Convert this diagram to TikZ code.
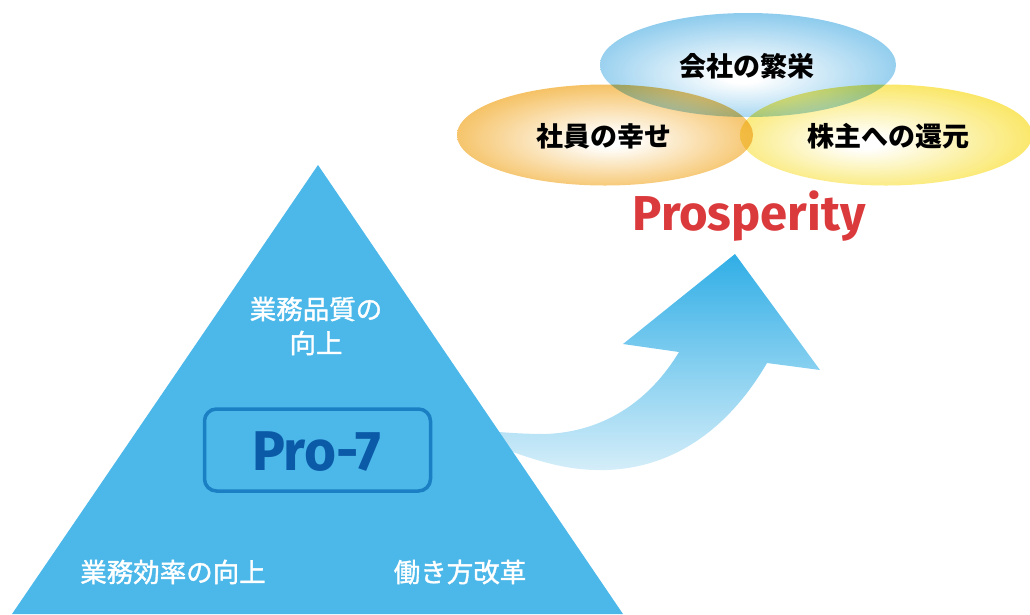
\documentclass[tikz,border=0pt]{standalone}
\usepackage{fontspec}
\setmainfont{Fira Sans}
\newfontfamily\jp{Noto Sans CJK JP}
\newfontfamily\jpm[FakeBold=1.3]{Noto Sans CJK JP}
\definecolor{triC}{HTML}{4CB8E9}
\definecolor{boxC}{HTML}{1B7FC4}
\definecolor{proC}{HTML}{0B5AA8}
\definecolor{redC}{HTML}{DB3A3C}
\definecolor{orangeC}{HTML}{F2AC2E}
\definecolor{blueC}{HTML}{6CBCE8}
\definecolor{yellowC}{HTML}{F8E03A}
\definecolor{arrTop}{HTML}{30AEE6}
\definecolor{arrBot}{HTML}{D6EEF9}
\pgfdeclareradialshading{shOrange}{\pgfpoint{1bp}{-3bp}}{color(0bp)=(white); color(3bp)=(white); color(31bp)=(orangeC); color(50bp)=(orangeC)}
\pgfdeclareradialshading{shBlue}{\pgfpoint{-1bp}{-6bp}}{color(0bp)=(white); color(3bp)=(white); color(31bp)=(blueC); color(50bp)=(blueC)}
\pgfdeclareradialshading{shYellow}{\pgfpoint{-4bp}{-4bp}}{color(0bp)=(white); color(3bp)=(white); color(31bp)=(yellowC); color(50bp)=(yellowC)}
\begin{document}
\begin{tikzpicture}[x=1pt,y=-1pt,
  ell/.style={fill opacity=0.88, blend mode=multiply},
  ejp/.style={font=\jp\bfseries\fontsize{27}{30}\selectfont, text=black},
  wjp/.style={font=\jpm\fontsize{26.5}{34}\selectfont, text=white, align=center},
]
\useasboundingbox (0,0) rectangle (1030,614);
% arrow
\path[top color=arrTop, bottom color=arrBot]
  (735,254) -- (820,370) -- (767,363)
  .. controls (722,440) and (660,472) .. (595,470)
  .. controls (555,469) and (520,455) .. (470,436)
  -- (470,429)
  .. controls (495,432) and (520,434) .. (545,434)
  .. controls (605,432) and (650,400) .. (679,352)
  -- (623,344) -- cycle;
% triangle
\fill[triC] (318,165) -- (623,614) -- (12,614) -- cycle;
\node[draw=boxC, line width=3.5pt, rounded corners=12pt, minimum width=226pt, minimum height=82pt] (box) at (317.5,450) {};
\node[text=proC, font=\bfseries\fontsize{56}{60}\selectfont, xscale=0.98] (pro) at (316.5,452) {Pro-7};
\node[wjp] (q) at (316,326) {業務品質の\\向上};
\node[wjp] (e) at (173,572) {業務効率の向上};
\node[wjp] (w) at (460,572) {働き方改革};
% ellipses
\begin{scope}[transparency group]
\path[ell, shading=shOrange] (605,135) ellipse [x radius=148, y radius=50.5];
\path[ell, shading=shYellow] (886,135) ellipse [x radius=146, y radius=50.5];
\path[ell, shading=shBlue] (748,65) ellipse [x radius=148, y radius=52];
\end{scope}
\node[ejp] (c) at (747,66) {会社の繁栄};
\node[ejp] (s) at (604,136) {社員の幸せ};
\node[ejp] (k) at (888,136) {株主への還元};
\node[text=redC, font=\bfseries\fontsize{49}{56}\selectfont] (p) at (749,216) {Prosperity};
\end{tikzpicture}
\end{document}
